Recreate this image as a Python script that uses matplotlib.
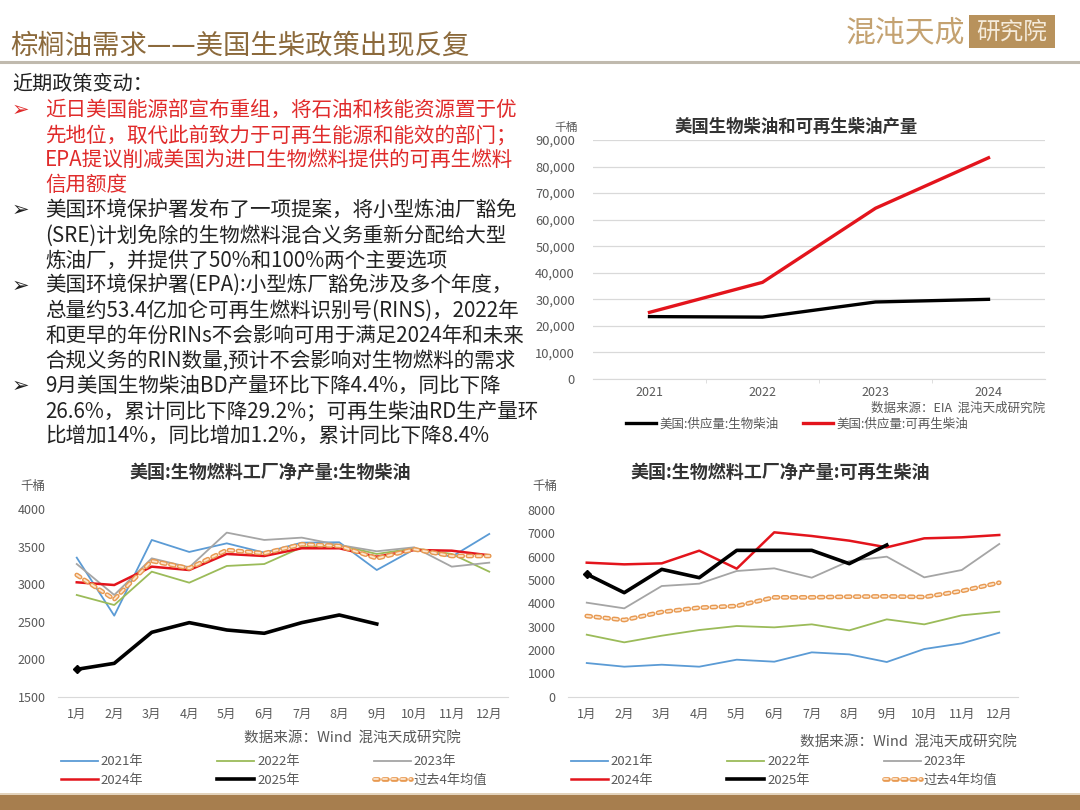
import matplotlib
matplotlib.use("Agg")
import matplotlib.pyplot as plt
import matplotlib.patheffects as pe
from matplotlib.patches import Rectangle
from matplotlib.lines import Line2D
from matplotlib.ticker import FuncFormatter

plt.rcParams['font.family'] = ['Noto Sans CJK SC', 'DejaVu Sans']
plt.rcParams['axes.unicode_minus'] = False

# ---- data ----
years = ["2021", "2022", "2023", "2024"]
biodiesel_supply = [23500, 23300, 29000, 30000]
renewable_supply = [25100, 36400, 64300, 83300]

months = ["1月", "2月", "3月", "4月", "5月", "6月", "7月", "8月", "9月", "10月", "11月", "12月"]

bd_2021 = [3355, 2581, 3591, 3431, 3546, 3422, 3555, 3560, 3190, 3466, 3368, 3671]
bd_2022 = [2857, 2723, 3168, 3021, 3244, 3270, 3493, 3524, 3404, 3480, 3404, 3168]
bd_2023 = [3270, 2857, 3346, 3226, 3689, 3591, 3622, 3524, 3440, 3493, 3235, 3288]
bd_2024 = [3026, 2990, 3235, 3190, 3404, 3377, 3480, 3480, 3368, 3457, 3448, 3386]
bd_2025 = [1865, 1945, 2359, 2488, 2390, 2346, 2488, 2590, 2470]
bd_avg = [3124, 2799, 3311, 3213, 3457, 3413, 3533, 3511, 3346, 3466, 3377, 3377]

rd_2021 = [1443, 1286, 1371, 1286, 1586, 1500, 1900, 1814, 1486, 2043, 2286, 2743]
rd_2022 = [2657, 2329, 2614, 2857, 3029, 2971, 3100, 2843, 3314, 3100, 3486, 3643]
rd_2023 = [4029, 3786, 4743, 4843, 5386, 5500, 5100, 5814, 6000, 5114, 5429, 6543]
rd_2024 = [5743, 5671, 5714, 6257, 5486, 7043, 6886, 6686, 6400, 6786, 6829, 6929]
rd_2025 = [5250, 4457, 5457, 5100, 6271, 6271, 6271, 5700, 6500]
rd_avg = [3457, 3286, 3629, 3814, 3886, 4257, 4257, 4286, 4300, 4271, 4529, 4886]

series_labels = ["2021年", "2022年", "2023年", "2024年", "2025年", "过去4年均值"]

W, H = 1080, 810
GOLD = "#8C6A3C"
TICK = "#595959"
GRID = "#D9D9D9"
RED_TXT = "#E02B2B"


def fx(x):
    return x / W


def fy(y):
    return 1 - y / H


fig = plt.figure(figsize=(10.8, 8.1), dpi=100)

# ---- header ----
fig.text(fx(10), fy(46), "棕榈油需求——美国生柴政策出现反复", fontsize=19.7, color=GOLD,
         va="center", ha="left")
fig.add_artist(Line2D([0, 1], [fy(62), fy(62)], color="#C0BAAE", lw=2.2))
fig.text(fx(846), fy(33), "混沌天成", fontsize=21.5, color="#C4A271", va="center", ha="left",
         fontweight="light")
fig.add_artist(Rectangle((fx(969), fy(48)), fx(86), 33 / H, color="#B8925C", lw=0))
fig.text(fx(1012), fy(32), "研究院", fontsize=17, color="#F5EBDB", va="center", ha="center",
         fontweight="light")
fig.add_artist(Rectangle((0, 0), 1, 15 / H, color="#A77E4E", lw=0))
fig.add_artist(Rectangle((0, 15 / H), 1, 2 / H, color="#E3D3BC", lw=0))

# ---- text block ----
fig.text(fx(12), fy(84), "近期政策变动：", fontsize=14.5, color="#222222", va="center")
lines = [
    ("近日美国能源部宣布重组，将石油和核能资源置于优", RED_TXT, True),
    ("先地位，取代此前致力于可再生能源和能效的部门；", RED_TXT, False),
    ("EPA提议削减美国为进口生物燃料提供的可再生燃料", RED_TXT, False),
    ("信用额度", RED_TXT, False),
    ("美国环境保护署发布了一项提案，将小型炼油厂豁免", "#222222", True),
    ("(SRE)计划免除的生物燃料混合义务重新分配给大型", "#222222", False),
    ("炼油厂，并提供了50%和100%两个主要选项", "#222222", False),
    ("美国环境保护署(EPA):小型炼厂豁免涉及多个年度，", "#222222", True),
    ("总量约53.4亿加仑可再生燃料识别号(RINS)，2022年", "#222222", False),
    ("和更早的年份RINs不会影响可用于满足2024年和未来", "#222222", False),
    ("合规义务的RIN数量,预计不会影响对生物燃料的需求", "#222222", False),
    ("9月美国生物柴油BD产量环比下降4.4%，同比下降", "#222222", True),
    ("26.6%，累计同比下降29.2%；可再生柴油RD生产量环", "#222222", False),
    ("比增加14%，同比增加1.2%，累计同比下降8.4%", "#222222", False),
]
y0 = 110
for i, (txt, col, bullet) in enumerate(lines):
    yy = y0 + i * 25.1
    if bullet:
        fig.text(fx(12), fy(yy), "➢", fontsize=15, color=col, va="center",
                 family=["DejaVu Sans"])
    fig.text(fx(45), fy(yy), txt, fontsize=14.8, color=col, va="center")

# ---- top right chart ----
ax1 = fig.add_axes([fx(593), fy(379), fx(452), 239 / H])
ax1.plot(years, biodiesel_supply, color="black", lw=2.4, label="美国:供应量:生物柴油")
ax1.plot(years, renewable_supply, color="#E3141C", lw=2.4, label="美国:供应量:可再生柴油")
ax1.set_xlim(-0.5, 3.5)
ax1.set_ylim(0, 90000)
ax1.set_yticks(range(0, 90001, 10000))
ax1.yaxis.set_major_formatter(FuncFormatter(lambda v, p: f"{int(v):,}"))
ax1.grid(axis="y", color=GRID, lw=0.9)
ax1.set_axisbelow(True)
for s in ["top", "right", "left"]:
    ax1.spines[s].set_visible(False)
ax1.spines["bottom"].set_color(GRID)
ax1.set_xticks([0.5, 1.5, 2.5], minor=True)
ax1.tick_params(axis="x", which="minor", length=3, color=GRID)
ax1.tick_params(axis="x", which="major", length=0, pad=5, labelsize=9, labelcolor=TICK)
ax1.tick_params(axis="y", length=0, pad=13, labelsize=9.3, labelcolor=TICK)
fig.text(fx(796), fy(127), "美国生物柴油和可再生柴油产量", fontsize=12.5, fontweight="bold",
         color="#333333", ha="center", va="center")
fig.text(fx(566), fy(127), "千桶", fontsize=8.5, color=TICK, ha="center", va="center")
fig.text(fx(1045), fy(408), "数据来源：EIA  混沌天成研究院", fontsize=9, color=TICK,
         ha="right", va="center")
ax1.legend(loc="center left", bbox_to_anchor=(fx(626), fy(424)), bbox_transform=fig.transFigure,
           ncol=2, frameon=False, fontsize=9, handlelength=2.4, handletextpad=0.25,
           columnspacing=2.0, borderpad=0, borderaxespad=0, labelcolor=TICK)

# ---- bottom charts ----
colors = ["#5B9BD5", "#9BBB59", "#A5A5A5", "#E3141C", "black"]


def season_chart(rect, data, ylim, step, title, title_x, unit_x, src_right, src_y, leg_x):
    ax = fig.add_axes(rect)
    d21, d22, d23, d24, d25, davg = data
    ax.plot(months, d21, color=colors[0], lw=1.3, label=series_labels[0])
    ax.plot(months, d22, color=colors[1], lw=1.3, label=series_labels[1])
    ax.plot(months, d23, color=colors[2], lw=1.3, label=series_labels[2])
    ax.plot(months, d24, color=colors[3], lw=1.8, label=series_labels[3])
    ax.plot(months[:len(d25)], d25, color=colors[4], lw=2.6, marker="D", ms=4,
            markevery=[0], label=series_labels[4])
    ax.plot(months, davg, color="#FCE6D0", lw=1.3, dashes=(2.2, 2.8), dash_capstyle="round",
            path_effects=[pe.Stroke(linewidth=3.4, foreground="#E89A52"), pe.Normal()],
            label=series_labels[5])
    ax.set_xlim(-0.5, 11.5)
    ax.set_ylim(*ylim)
    ax.set_yticks(range(ylim[0], ylim[1] + 1, step))
    for s in ["top", "right", "left"]:
        ax.spines[s].set_visible(False)
    ax.spines["bottom"].set_color(GRID)
    ax.tick_params(axis="x", length=0, pad=8, labelsize=9, labelcolor=TICK)
    ax.tick_params(axis="y", length=0, pad=9, labelsize=9, labelcolor=TICK)
    fig.text(fx(title_x), fy(472), title, fontsize=13, fontweight="bold", color="#333333",
             ha="center", va="center")
    fig.text(fx(unit_x), fy(487), "千桶", fontsize=9, color=TICK, ha="center", va="center")
    fig.text(fx(src_right), fy(src_y), "数据来源：Wind  混沌天成研究院", fontsize=10.5,
             color=TICK, ha="right", va="center")
    h, l = ax.get_legend_handles_labels()
    order = [0, 3, 1, 4, 2, 5]
    leg = ax.legend([h[i] for i in order], [l[i] for i in order], loc="center left",
                    bbox_to_anchor=(fx(leg_x), fy(771)), bbox_transform=fig.transFigure,
                    ncol=3, frameon=False, fontsize=9.5, handlelength=2.8, handletextpad=0.23,
                    columnspacing=5.6, labelspacing=0.4, borderpad=0, borderaxespad=0,
                    labelcolor=TICK)
    for lh in leg.legend_handles:
        lh.set_marker("")
    return ax


season_chart([fx(58), fy(696.7), fx(450), 187.4 / H],
             [bd_2021, bd_2022, bd_2023, bd_2024, bd_2025, bd_avg], (1500, 4000), 500,
             "美国:生物燃料工厂净产量:生物柴油", 270, 33, 461, 738, 61)
season_chart([fx(568), fy(696.7), fx(450), 186.7 / H],
             [rd_2021, rd_2022, rd_2023, rd_2024, rd_2025, rd_avg], (0, 8000), 1000,
             "美国:生物燃料工厂净产量:可再生柴油", 780, 545, 1017, 742, 571)

fig.savefig("out.png", dpi=100)
